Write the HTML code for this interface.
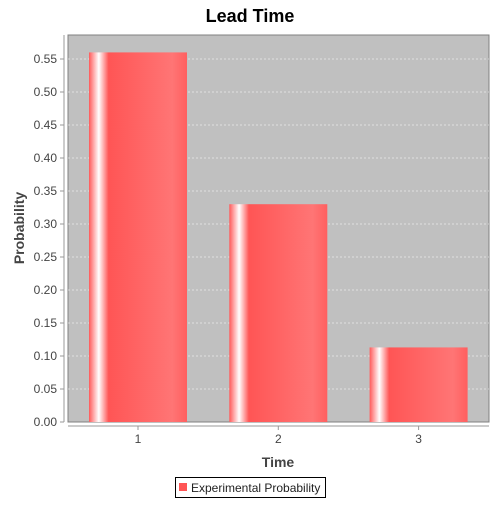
<!DOCTYPE html>
<html><head><style>
body{margin:0;background:#fff;font-family:"Liberation Sans",sans-serif;}
</style></head><body>
<svg width="500" height="500" font-family="Liberation Sans, sans-serif">
<defs>
<linearGradient id="bg" x1="0" x2="1" y1="0" y2="0">
<stop offset="0" stop-color="#ff5a5a"/>
<stop offset="0.1" stop-color="#ffffff"/>
<stop offset="0.2" stop-color="#ff5555"/>
<stop offset="0.85" stop-color="#ff7575"/>
<stop offset="1" stop-color="#ff5f5f"/>
</linearGradient>
</defs>
<text x="250" y="22" text-anchor="middle" font-size="18" font-weight="bold">Lead Time</text>
<rect x="68" y="35" width="421" height="387" fill="#c0c0c0" stroke="#808080"/>
<g id="grid"></g>
<g id="bars"></g>
<line x1="64" y1="35" x2="64" y2="422" stroke="#999"/>
<line x1="68" y1="426" x2="489" y2="426" stroke="#999"/>
<g id="yticks" font-size="12" fill="#444"></g>
<g id="xticks" font-size="12" fill="#444"></g>
<text x="278" y="467" text-anchor="middle" font-size="14" font-weight="bold" fill="#444">Time</text>
<text transform="translate(24,228) rotate(-90)" text-anchor="middle" font-size="14" font-weight="bold" fill="#444">Probability</text>
<g>
<rect x="175.5" y="477.5" width="150" height="20" fill="#fff" stroke="#000"/>
<rect x="179" y="483" width="8" height="8" fill="#ff5555"/>
<text x="191" y="492" font-size="12" fill="#222">Experimental Probability</text>
</g>
</svg>
<script>
const categories=["1","2","3"];
const values=[0.56,0.33,0.113];
const yTicks=[0,0.05,0.1,0.15,0.2,0.25,0.3,0.35,0.4,0.45,0.5,0.55];
const NS="http://www.w3.org/2000/svg";
const L=68,R=489,T=35,B=422;
function y(v){return B-v*660;}
function xc(i){const w=(R-L);const inner=w*0.9;const step=inner/categories.length;return L+w*0.05+step*(i+0.5)-(i-1)*0;}
function mk(t,a){const e=document.createElementNS(NS,t);for(const k in a)e.setAttribute(k,a[k]);return e;}
const grid=document.getElementById('grid'),yt=document.getElementById('yticks');
yTicks.forEach(v=>{
 if(v>0){const g=mk('line',{x1:L,x2:R,y1:y(v),y2:y(v),stroke:'#fff','stroke-dasharray':'2,2','stroke-width':0.6});
 
 
 grid.appendChild(g);}
 const tk=mk('line',{x1:60,x2:64,y1:y(v),y2:y(v),stroke:'#999'});
 
 
 yt.appendChild(tk);
 const t=mk('text',{x:57,y:y(v)+4,'text-anchor':'end'});t.textContent=v.toFixed(2);
 
 
 yt.appendChild(t);
});
const bars=document.getElementById('bars'),xt=document.getElementById('xticks');
const bw=98;
const centers=[137.7,278,418];
values.forEach((v,i)=>{
 const step=(R-L-42)/3*1.0;const c=L+21+bw/2+i*(bw+42.3);
 const r=mk('rect',{x:c-bw/2,y:y(v),width:bw,height:B-y(v),fill:'url(#bg)'});
 
 
 bars.appendChild(r);
 const tk=mk('line',{x1:c,x2:c,y1:426,y2:430,stroke:'#999'});
 
 
 xt.appendChild(tk);
 const t=mk('text',{x:c,y:443,'text-anchor':'middle'});t.textContent=categories[i];
 
 
 xt.appendChild(t);
});
</script>
</body></html>
